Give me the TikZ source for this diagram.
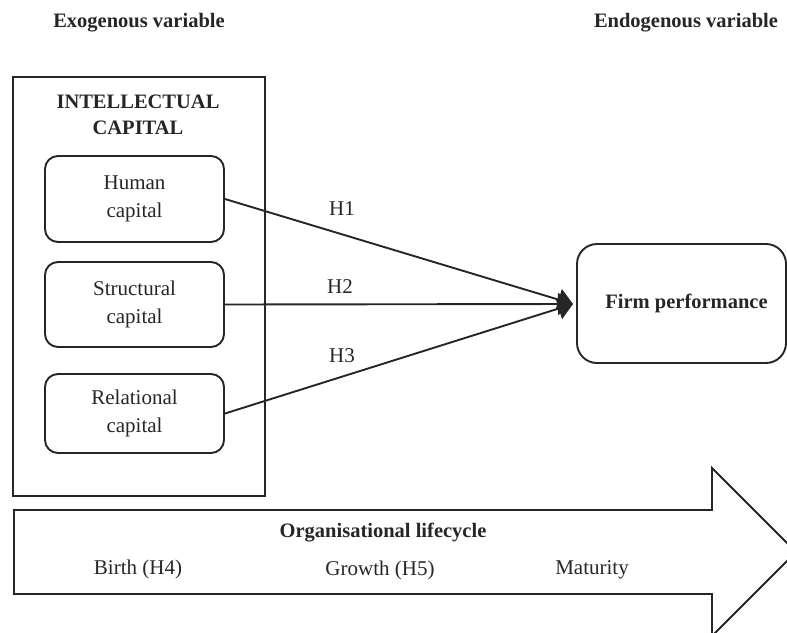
\documentclass[tikz,border=0pt]{standalone}
\usepackage{fontspec}
\setmainfont{Liberation Serif}
\usetikzlibrary{arrows.meta}
\begin{document}
\begin{tikzpicture}[x=1pt,y=-1pt,
  stroke/.style={line width=1.9pt,draw=black!85},
  capbox/.style={stroke, rounded corners=13pt, minimum width=179pt, align=center, inner sep=0pt,
    font=\fontsize{21}{28}\selectfont, text=black!85},
  lbl/.style={font=\fontsize{21}{28}\selectfont, inner sep=0pt, text=black!85},
  boldtxt/.style={font=\fontsize{20.5}{26}\selectfont\bfseries, inner sep=0pt, align=center, text=black!85},
  conn/.style={stroke, -{Triangle[length=15pt,width=22pt]}}
]
\useasboundingbox (0,0) rectangle (787,632);
\clip (0,0) rectangle (787,632);
% headers
\node[boldtxt] (exo) at (139,23) {Exogenous variable};
\node[boldtxt] (endo) at (686,23) {Endogenous variable};
% big frame
\draw[stroke] (13,77) rectangle (265,496);
\node[boldtxt] (ic) at (138,115) {INTELLECTUAL\\CAPITAL};
% capital boxes
\node[capbox, minimum height=86pt] (hum) at (134.5,199) {Human\\capital};
\node[capbox, minimum height=85pt] (str) at (134.5,304.5) {Structural\\capital};
\node[capbox, minimum height=79pt] (rel) at (134.5,413.5) {Relational\\capital};
% firm performance
\node[stroke, rounded corners=20pt, minimum width=209pt, minimum height=119pt, inner sep=0pt,
  font=\fontsize{20.5}{26}\selectfont\bfseries, text=black!85] (firm) at (681.5,303.5) {\hspace{10pt}Firm performance};
\coordinate (tip) at (573,304);
\draw[conn] (hum.east) -- (tip);
\draw[conn] (str.east) -- (tip);
\draw[conn] (rel.east) -- (tip);
\node[lbl] (h1) at (342,209) {H1};
\node[lbl] (h2) at (340,287) {H2};
\node[lbl] (h3) at (342,356) {H3};
% lifecycle arrow
\draw[stroke, line join=miter] (14,510) -- (712,510) -- (712,468) -- (796,552) -- (712,636) -- (712,594) -- (14,594) -- cycle;
\node[boldtxt] (ol) at (383,533) {Organisational lifecycle};
\node[lbl] (birth) at (138,569) {Birth (H4)};
\node[lbl] (growth) at (380,570) {Growth (H5)};
\node[lbl] (mat) at (592,570) {Maturity};
\end{tikzpicture}
\end{document}
